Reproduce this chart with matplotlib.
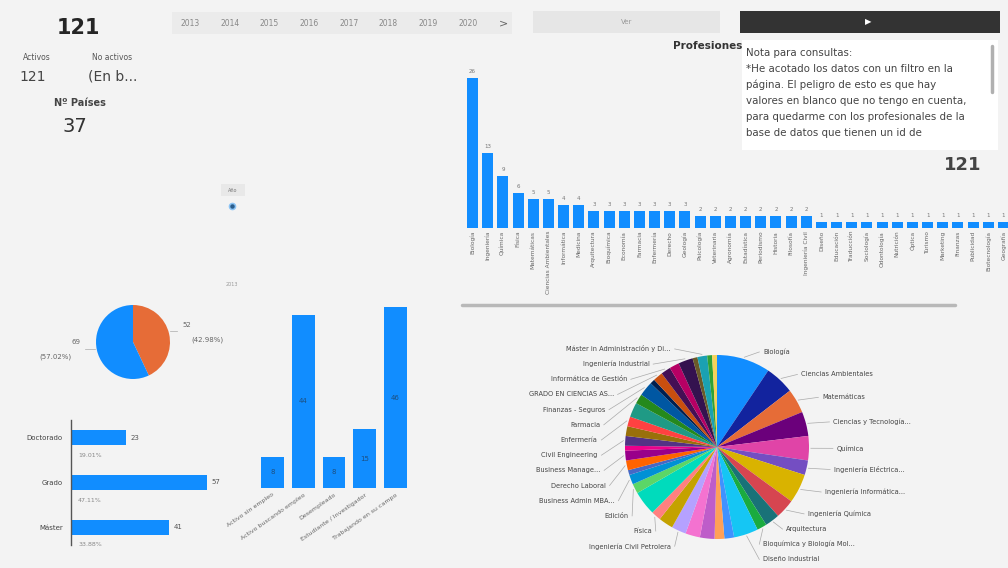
import matplotlib.pyplot as plt
import numpy as np
from matplotlib.patches import Rectangle

W, H = 1008, 568
BG = "#f3f3f3"
BLUE = "#118DFF"
ORANGE = "#E66C37"

# KPI cards
total_profesionales = 121
activos = 121
no_activos = "(En b..."
n_paises = 37
years = ["2013", "2014", "2015", "2016", "2017", "2018", "2019", "2020"]

# Profesiones (top bar chart)
prof_names = ["Biología", "Ingeniería", "Química", "Física", "Matemáticas",
              "Ciencias Ambientales", "Informática", "Medicina", "Arquitectura",
              "Bioquímica", "Economía", "Farmacia", "Enfermería", "Derecho",
              "Geología", "Psicología", "Veterinaria", "Agronomía", "Estadística",
              "Periodismo", "Historia", "Filosofía", "Ingeniería Civil", "Diseño",
              "Educación", "Traducción", "Sociología", "Odontología", "Nutrición",
              "Óptica", "Turismo", "Marketing", "Finanzas", "Publicidad",
              "Biotecnología", "Geografía"]
prof_counts = [26, 13, 9, 6, 5, 5, 4, 4, 3, 3, 3, 3, 3, 3, 3,
               2, 2, 2, 2, 2, 2, 2, 2,
               1, 1, 1, 1, 1, 1, 1, 1, 1, 1, 1, 1, 1]

# small pie
sexo_counts = [52, 69]
sexo_colors = [ORANGE, BLUE]

# nivel de estudios (horizontal bars)
grado_names = ["Doctorado", "Grado", "Máster"]
grado_counts = [23, 57, 41]

# situación laboral (vertical bars)
situacion_names = ["Activo sin empleo", "Activo buscando empleo", "Desempleado",
                   "Estudiante / Investigador", "Trabajando en su campo"]
situacion_counts = [8, 44, 8, 15, 46]

# estudios (big pie), clockwise from 12 o'clock
estudios_names = ["Biología", "Ciencias Ambientales", "Matemáticas",
                  "Ciencias y Tecnología...", "Química", "Ingeniería Eléctrica...",
                  "Ingeniería Informática...", "Ingeniería Química", "Arquitectura",
                  "Bioquímica y Biología Mol...", "Diseño Industrial", "", "", "", "",
                  "Ingeniería Civil Petrolera", "", "Física", "", "Edición",
                  "Business Admin MBA...", "", "Derecho Laboral", "Business Manage...",
                  "", "Civil Engineering", "", "Enfermería", "", "Farmacia",
                  "Finanzas - Seguros", "", "GRADO EN CIENCIAS AS...",
                  "Informática de Gestión", "", "Ingeniería Industrial", "",
                  "Máster in Administración y Di...", "", ""]
estudios_counts = [11, 6, 5, 5, 5, 3, 6, 4, 3, 2, 5, 2, 2, 3, 3, 3, 3, 2, 5, 2,
                   2, 1, 2, 2, 1, 2, 2, 2, 3, 2, 3, 1, 2, 2, 2, 3, 1, 2, 1, 1]
palette = ["#118DFF", "#12239E", "#E66C37", "#6B007B", "#E044A7", "#744EC2",
           "#D9B300", "#D64550", "#197278", "#1AAB40", "#15C6F4", "#4092FF",
           "#FFA058", "#BE5DC9", "#F472D0", "#B5A1FF", "#C4A200", "#FF8080",
           "#00DBBC", "#5BD667", "#0091D5", "#4668C5", "#FF6300", "#99008A",
           "#EC008C", "#533285", "#99700A", "#FF4141", "#1F9A85", "#25891C",
           "#0057A2", "#002050", "#C94F0F", "#450F54", "#B60064", "#34124F",
           "#6A5A29", "#1BA1B2", "#30A236", "#F4D25A"]

nota_lines = ["Nota para consultas:",
              "*He acotado los datos con un filtro en la",
              "página. El peligro de esto es que hay",
              "valores en blanco que no tengo en cuenta,",
              "para quedarme con los profesionales de la",
              "base de datos que tienen un id de"]


def box(x0, y0, x1, y1):
    return [x0 / W, 1 - y1 / H, (x1 - x0) / W, (y1 - y0) / H]


def clean(ax):
    for s in ax.spines.values():
        s.set_visible(False)
    ax.set_facecolor("none")


fig = plt.figure(figsize=(W / 100, H / 100), dpi=100, facecolor=BG)

# background / text layer
bg = fig.add_axes([0, 0, 1, 1])
bg.set_xlim(0, W)
bg.set_ylim(H, 0)
bg.axis("off")

bg.text(78, 28, str(total_profesionales), ha="center", va="center", fontsize=15, fontweight="bold", color="#252525")
bg.text(37, 57, "Activos", ha="center", va="center", fontsize=5.5, color="#555")
bg.text(112, 57, "No activos", ha="center", va="center", fontsize=5.5, color="#555")
bg.text(33, 77, str(activos), ha="center", va="center", fontsize=10, color="#444")
bg.text(113, 77, no_activos, ha="center", va="center", fontsize=10, color="#444")
bg.text(80, 103, "Nº Países", ha="center", va="center", fontsize=7, fontweight="bold", color="#444")
bg.text(75, 127, str(n_paises), ha="center", va="center", fontsize=14, color="#333")

# year slicer
bg.add_patch(Rectangle((172, 12), 340, 22, facecolor="#ebebeb", edgecolor="none"))
for i, y in enumerate(years):
    bg.text(190 + 39.7 * i, 23, y, ha="center", va="center", fontsize=5.5, color="#888")
bg.text(503, 23, ">", ha="center", va="center", fontsize=8, color="#666")

# buttons
bg.add_patch(Rectangle((533, 11), 187, 22, facecolor="#e6e6e6", edgecolor="none"))
bg.text(627, 22, "Ver", ha="center", va="center", fontsize=5, color="#999")
bg.add_patch(Rectangle((740, 11), 260, 22, facecolor="#333333", edgecolor="none"))
bg.text(868, 22, "▶", ha="center", va="center", fontsize=6, color="white")

bg.text(742, 46, "Profesiones", ha="right", va="center", fontsize=7.5, fontweight="bold", color="#333")

# small slider widget
bg.add_patch(Rectangle((221, 184), 24, 12, facecolor="#e8e8e8", edgecolor="none"))
bg.text(233, 190, "Año", ha="center", va="center", fontsize=3.5, color="#777")
bg.plot(232, 206, "o", ms=4.5, color="#8cc4f5")
bg.plot(232, 206, "o", ms=2.2, color="#2b5d8c")
bg.text(232, 285, "2013", ha="center", va="center", fontsize=3.5, color="#999")

# scrollbar under the top bar chart
bg.plot([462, 955], [305, 305], color="#b8b8b8", lw=2.5, solid_capstyle="round")

# ---- top bar chart: profesiones
ax = fig.add_axes(box(462, 60, 1008, 228))
clean(ax)
x = np.arange(len(prof_counts))
ax.bar(x, prof_counts, width=0.72, color=BLUE)
for xi, v in zip(x, prof_counts):
    ax.text(xi, v + 0.7, str(v), ha="center", va="bottom", fontsize=4, color="#777")
ax.set_xlim(-0.7, len(prof_counts) - 0.7)
ax.set_ylim(0, 29.1)
ax.set_yticks([])
ax.set_xticks(x)
ax.set_xticklabels(prof_names, rotation=90, fontsize=4.2, color="#666")
ax.tick_params(length=0, pad=2)

# ---- note box and total (drawn over the bar chart)
top = fig.add_axes([0, 0, 1, 1])
top.set_xlim(0, W)
top.set_ylim(H, 0)
top.axis("off")
top.set_facecolor("none")
top.add_patch(Rectangle((742, 40), 256, 110, facecolor="white", edgecolor="none"))
for i, line in enumerate(nota_lines):
    top.text(746, 53 + 16 * i, line, ha="left", va="center", fontsize=7.4, color="#444")
top.plot([992, 992], [46, 92], color="#b0b0b0", lw=2.5, solid_capstyle="round")
top.text(963, 165, str(total_profesionales), ha="center", va="center", fontsize=13, fontweight="bold", color="#444")

# ---- small pie
ax4 = fig.add_axes(box(96, 305, 170, 379))
ax4.pie(sexo_counts, colors=sexo_colors, startangle=90, counterclock=False,
        wedgeprops=dict(linewidth=0))
ax4.set_xlim(-1, 1)
ax4.set_ylim(-1, 1)
tot = sum(sexo_counts)
ax4.text(1.45, 0.45, f"{sexo_counts[0]}", ha="center", va="center", fontsize=5, color="#666", clip_on=False)
ax4.text(2.0, 0.05, f"({sexo_counts[0] / tot * 100:.2f}%)", ha="center", va="center", fontsize=5, color="#666", clip_on=False)
ax4.text(-1.55, 0.0, f"{sexo_counts[1]}", ha="center", va="center", fontsize=5, color="#666", clip_on=False)
ax4.text(-2.1, -0.4, f"({sexo_counts[1] / tot * 100:.2f}%)", ha="center", va="center", fontsize=5, color="#666", clip_on=False)
ax4.plot([-1.02, -1.3], [-0.2, -0.2], color="#aaa", lw=0.5, clip_on=False)
ax4.plot([1.0, 1.2], [0.3, 0.3], color="#aaa", lw=0.5, clip_on=False)

# ---- horizontal bars: nivel de estudios
ax3 = fig.add_axes(box(71, 420, 230, 545))
clean(ax3)
yy = np.arange(len(grado_counts))
ax3.barh(yy, grado_counts, height=0.34, color=BLUE)
gt = sum(grado_counts)
for yi, v in zip(yy, grado_counts):
    ax3.text(v + 2, yi, str(v), ha="left", va="center", fontsize=5, color="#555")
    ax3.text(3, yi + 0.4, f"{v / gt * 100:.2f}%", ha="left", va="center", fontsize=4.5, color="#888")
ax3.set_ylim(2.4, -0.4)
ax3.set_xlim(0, 66.6)
ax3.set_xticks([])
ax3.set_yticks(yy)
ax3.set_yticklabels(grado_names, fontsize=5, color="#444")
ax3.tick_params(length=0, pad=6)
ax3.spines["left"].set_visible(True)
ax3.spines["left"].set_color("#555")
ax3.spines["left"].set_linewidth(1)

# ---- vertical bars: situación laboral
ax2 = fig.add_axes(box(257, 300, 411, 488))
clean(ax2)
xs = np.arange(len(situacion_counts))
ax2.bar(xs, situacion_counts, width=0.74, color=BLUE)
for xi, v in zip(xs, situacion_counts):
    ax2.text(xi, v / 2, str(v), ha="center", va="center", fontsize=5, color="#1d4f80")
ax2.set_xlim(-0.5, len(situacion_counts) - 0.5)
ax2.set_ylim(0, 47.8)
ax2.set_yticks([])
ax2.set_xticks(xs)
ax2.set_xticklabels(situacion_names, rotation=35, ha="right", rotation_mode="anchor",
                    fontsize=4.5, color="#666")
ax2.tick_params(length=0, pad=3)

# ---- big pie: estudios
ax5 = fig.add_axes(box(625, 355, 809, 539))
ax5.pie(estudios_counts, colors=palette[:len(estudios_counts)], startangle=90,
        counterclock=False, wedgeprops=dict(linewidth=0))
ax5.set_xlim(-1, 1)
ax5.set_ylim(-1, 1)

cum = np.cumsum(estudios_counts)
mids = (cum - np.array(estudios_counts) / 2) / cum[-1] * 2 * np.pi
items = []
for name, th in zip(estudios_names, mids):
    if name:
        items.append((name, np.sin(th), np.cos(th)))

for side in (1, -1):
    pts = [it for it in items if np.sign(it[1]) == side]
    pts.sort(key=lambda p: -p[2])
    ys = []
    prev = None
    for name, ex, ey in pts:
        y = ey * 1.08
        if prev is not None and prev - y < 0.165:
            y = prev - 0.165
        ys.append(y)
        prev = y
    for (name, ex, ey), y in zip(pts, ys):
        lx = side * (max(np.sqrt(max(0.0, 1 - min(1.0, y * y))), 0.2) + 0.3)
        ax5.plot([ex * 1.02, lx - side * 0.04], [ey * 1.02, y], color="#aaa", lw=0.5, clip_on=False)
        ax5.text(lx, y, name, ha="left" if side > 0 else "right", va="center",
                 fontsize=4.8, color="#444", clip_on=False)

fig.savefig("out.png", dpi=100, facecolor=BG)
